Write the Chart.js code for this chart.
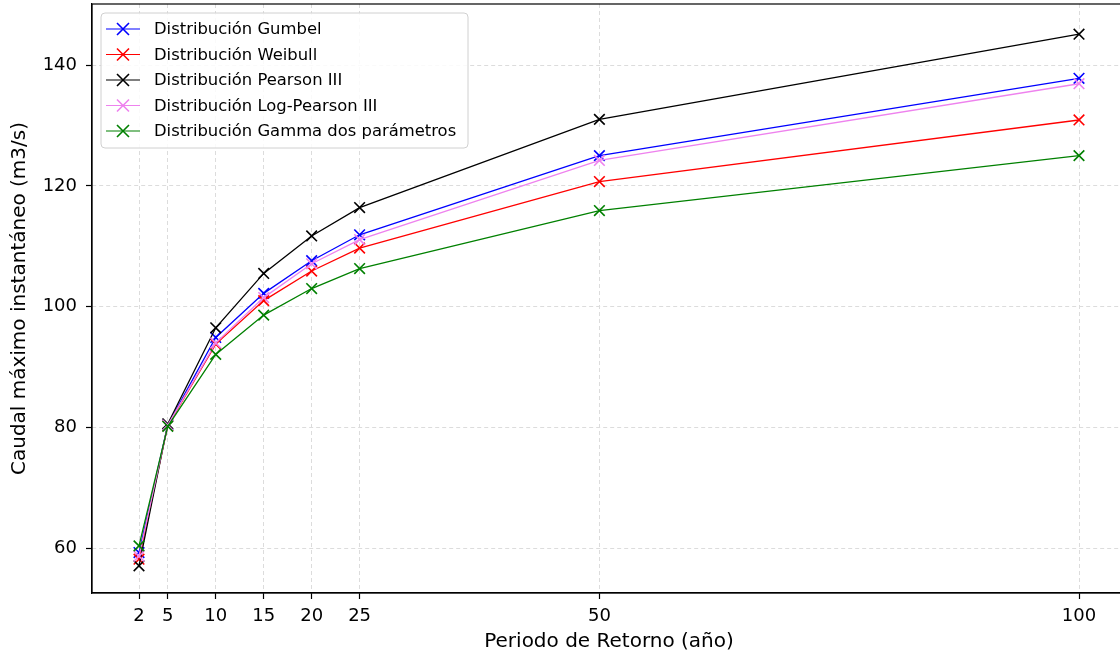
<!DOCTYPE html>
<html>
<head>
<meta charset="utf-8">
<script src="https://cdn.jsdelivr.net/npm/chart.js@4"></script>
<style>
html, body { margin: 0; padding: 0; background: #fff; overflow: hidden; }
#chart { display: block; width: 1130px; height: 655px; }
</style>
</head>
<body>
<canvas id="chart" width="1130" height="655"></canvas>
<script>
// ---------------- Data ----------------
const periodos = [2, 5, 10, 15, 20, 25, 50, 100];
const gumbel      = [59.3, 80.4, 94.9, 102.2, 107.6, 111.9, 125.0, 137.8];
const weibull     = [58.2, 80.3, 93.8, 101.0, 105.9, 109.7, 120.7, 130.9];
const pearson3    = [57.1, 80.6, 96.5, 105.5, 111.7, 116.4, 131.0, 145.1];
const logPearson3 = [58.7, 80.4, 94.0, 101.5, 107.1, 111.1, 124.2, 136.9];
const gamma2      = [60.4, 80.2, 92.1, 98.6, 103.0, 106.3, 115.9, 125.0];
const yTicks = [60, 80, 100, 120, 140];

const series = [
    { label: 'Distribución Gumbel', values: gumbel, color: '#0000ff' },
    { label: 'Distribución Weibull', values: weibull, color: '#ff0000' },
    { label: 'Distribución Pearson III', values: pearson3, color: '#000000' },
    { label: 'Distribución Log-Pearson III', values: logPearson3, color: '#ee82ee' },
    { label: 'Distribución Gamma dos parámetros', values: gamma2, color: '#008000' }
];

const FONT = "'DejaVu Sans', sans-serif";

// ---------------- Plugins ----------------
const frame = {
    id: 'frame',
    afterDatasetsDraw(chart) {
        const { ctx, chartArea: a } = chart;
        ctx.save();
        ctx.strokeStyle = '#000';
        ctx.lineWidth = 1.2;
        ctx.strokeRect(a.left, a.top, a.right - a.left, a.bottom - a.top);
        ctx.restore();
    }
};

const legendBox = {
    id: 'legendBox',
    afterDraw(chart) {
        const ctx = chart.ctx;
        const x0 = 101, y0 = 13, w = 367, h = 135, r = 4;
        ctx.save();
        ctx.beginPath();
        ctx.roundRect(x0, y0, w, h, r);
        ctx.fillStyle = 'rgba(255,255,255,0.85)';
        ctx.fill();
        ctx.strokeStyle = '#d0d0d0';
        ctx.lineWidth = 1;
        ctx.stroke();
        chart.data.datasets.forEach((ds, i) => {
            const cy = 29 + i * 25.5;
            ctx.strokeStyle = ds.borderColor;
            ctx.lineWidth = 1.2;
            ctx.beginPath();
            ctx.moveTo(106, cy); ctx.lineTo(140, cy);
            ctx.stroke();
            ctx.lineWidth = 1.6;
            ctx.beginPath();
            ctx.moveTo(117, cy - 6); ctx.lineTo(129, cy + 6);
            ctx.moveTo(117, cy + 6); ctx.lineTo(129, cy - 6);
            ctx.stroke();
            ctx.fillStyle = '#000';
            ctx.font = '16.4px ' + FONT;
            ctx.textBaseline = 'middle';
            ctx.fillText(ds.label, 154, cy + 1);
        });
        ctx.restore();
    }
};

// ---------------- Chart ----------------
const datasets = series.map((s, i) => ({
    label: s.label,
    data: periodos.map((p, k) => ({ x: p, y: s.values[k] })),
    borderColor: s.color,
    backgroundColor: s.color,
    borderWidth: 1.3,
    pointStyle: 'crossRot',
    pointRadius: 7.5,
    pointBorderWidth: 1.6,
    pointHoverRadius: 7.5,
    tension: 0,
    order: series.length - i
}));

const gridOpts = {
    color: '#dcdcdc',
    lineWidth: 1,
    drawTicks: true,
    tickLength: 6,
    tickColor: '#000',
    tickWidth: 1.2,
    tickBorderDash: []
};
const borderOpts = { display: true, color: '#000', width: 1.2, dash: [4, 3] };

new Chart(document.getElementById('chart'), {
    type: 'line',
    data: { datasets },
    options: {
        responsive: false,
        animation: false,
        layout: { autoPadding: false, padding: { top: 4, right: 4, left: 0, bottom: 0 } },
        plugins: { legend: { display: false }, tooltip: { enabled: false } },
        scales: {
            x: {
                type: 'linear',
                min: -2.9,
                max: 104.9,
                afterBuildTicks: scale => { scale.ticks = periodos.map(v => ({ value: v })); },
                afterFit: scale => { scale.height = 62; scale.paddingLeft = 0; scale.paddingRight = 0; },
                grid: gridOpts,
                border: borderOpts,
                ticks: { color: '#000', font: { family: FONT, size: 18 }, padding: 7, maxRotation: 0, autoSkip: false },
                title: { display: true, text: 'Periodo de Retorno (año)', color: '#000', font: { family: FONT, size: 20 }, padding: { top: 0, bottom: 1 } }
            },
            y: {
                type: 'linear',
                min: 52.6,
                max: 150.1,
                afterBuildTicks: scale => { scale.ticks = yTicks.map(v => ({ value: v })); },
                afterFit: scale => { scale.width = 92; scale.paddingTop = 0; scale.paddingBottom = 0; },
                grid: gridOpts,
                border: borderOpts,
                ticks: { color: '#000', font: { family: FONT, size: 18 }, padding: 9 },
                title: { display: true, text: 'Caudal máximo instantáneo (m3/s)', color: '#000', font: { family: FONT, size: 20 }, padding: { top: 8, bottom: 0 } }
            }
        }
    },
    plugins: [frame, legendBox]
});
</script>
</body>
</html>
